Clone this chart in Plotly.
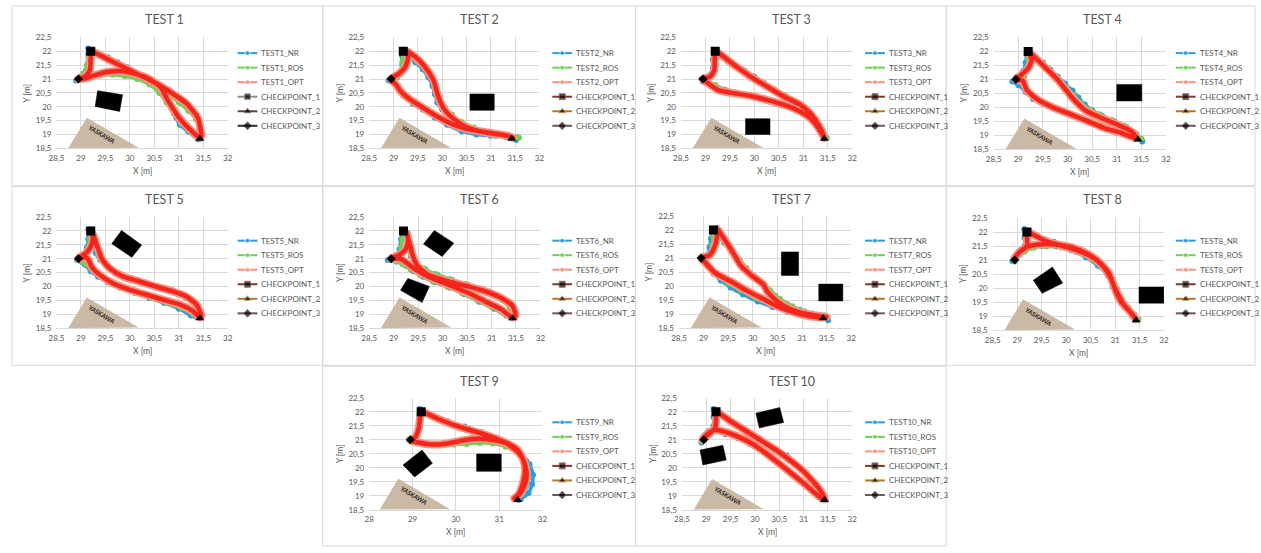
import plotly.graph_objects as go

W, H = 1261, 553

# ---------------- data (metres) ----------------
CP1 = (29.2, 22.0)
CP2 = (31.43, 18.85)
CP3 = (28.95, 21.0)

TITLES = ["TEST 1", "TEST 2", "TEST 3", "TEST 4", "TEST 5",
          "TEST 6", "TEST 7", "TEST 8", "TEST 9", "TEST 10"]

NR_1 = [(29.2,22.0),(29.35,21.88),(29.55,21.78),(29.75,21.6),(29.95,21.42),(30.15,21.2),(30.35,21.0),(30.5,20.82),(30.65,20.55),(30.75,20.25),(30.85,19.95),(30.95,19.6),(31.02,19.35),(31.2,19.1),(31.4,18.82),(31.45,19.2),(31.35,19.6),(31.2,20.05),(31.0,20.35),(30.8,20.6),(30.6,20.8),(30.4,20.95),(30.2,21.05),(30.0,21.13),(29.8,21.18),(29.6,21.2),(29.4,21.15),(29.2,21.05),(29.05,20.98),(28.9,20.95),(29.0,21.1),(29.1,21.3),(29.15,21.6),(29.15,21.9),(29.15,22.1),(29.2,22.0)]
ROS_1 = [(29.2,22.0),(29.4,21.85),(29.6,21.7),(29.8,21.5),(30.0,21.32),(30.2,21.13),(30.4,20.95),(30.6,20.75),(30.8,20.45),(31.0,20.15),(31.2,19.85),(31.35,19.55),(31.42,19.2),(31.43,18.88),(31.25,19.1),(31.05,19.4),(30.9,19.75),(30.75,20.15),(30.6,20.5),(30.4,20.8),(30.15,21.0),(29.9,21.1),(29.65,21.15),(29.4,21.13),(29.2,21.05),(29.0,20.98),(28.95,21.0),(29.05,21.2),(29.12,21.5),(29.15,21.8),(29.2,22.0)]
OPT_1 = [(29.2,22.0),(29.53,21.73),(29.87,21.43),(30.21,21.13),(30.54,20.84),(30.85,20.5),(31.15,20.13),(31.39,19.6),(31.46,18.95),(31.43,18.88),(31.25,19.15),(31.0,19.62),(30.78,20.22),(30.62,20.72),(30.34,21.05),(29.87,21.28),(29.53,21.25),(29.26,21.12),(29.1,21.03),(28.94,21.0),(29.09,21.1),(29.18,21.31),(29.2,21.79),(29.2,22.0)]

NR_2 = [(29.2,22.0),(29.3,21.8),(29.45,21.6),(29.6,21.35),(29.72,21.05),(29.8,20.75),(29.85,20.45),(29.9,20.15),(30.0,19.9),(30.15,19.65),(30.35,19.4),(30.6,19.2),(30.85,19.05),(31.1,18.95),(31.35,18.93),(31.55,18.9),(31.52,18.8),(31.3,18.92),(31.0,18.95),(30.7,19.0),(30.4,19.12),(30.1,19.35),(29.85,19.6),(29.6,19.9),(29.4,20.1),(29.2,20.4),(29.08,20.7),(28.98,20.9),(28.9,20.95),(29.05,21.05),(29.15,21.2),(29.18,21.5),(29.18,21.8),(29.2,22.0)]
ROS_2 = [(29.2,22.0),(29.32,21.82),(29.5,21.6),(29.65,21.35),(29.78,21.05),(29.87,20.7),(29.95,20.35),(30.05,20.0),(30.2,19.72),(30.4,19.45),(30.65,19.25),(30.9,19.1),(31.2,19.0),(31.45,18.92),(31.58,18.88),(31.4,18.95),(31.1,19.0),(30.8,19.07),(30.5,19.2),(30.2,19.4),(29.9,19.65),(29.65,19.95),(29.42,20.2),(29.22,20.45),(29.1,20.75),(29.0,20.92),(29.08,21.05),(29.15,21.3),(29.18,21.6),(29.2,22.0)]
OPT_2 = [(29.25,22.02),(29.45,21.79),(29.65,21.43),(29.82,20.96),(29.92,20.36),(30.05,19.89),(30.26,19.53),(30.53,19.24),(30.93,19.06),(31.34,18.96),(31.46,18.88),(31.3,18.97),(30.9,19.08),(30.5,19.2),(30.2,19.38),(29.9,19.65),(29.6,19.97),(29.35,20.25),(29.15,20.55),(29.05,20.8),(28.94,21.0),(29.11,21.19),(29.24,21.43),(29.3,21.79),(29.25,22.02)]

NR_3 = [(29.2,22.0),(29.3,21.85),(29.45,21.65),(29.6,21.5),(29.8,21.3),(30.0,21.08),(30.2,20.85),(30.4,20.62),(30.6,20.42),(30.8,20.22),(31.0,20.0),(31.15,19.75),(31.3,19.4),(31.4,19.05),(31.43,18.85),(31.3,19.3),(31.1,19.65),(30.9,19.85),(30.6,20.05),(30.3,20.2),(30.0,20.32),(29.7,20.42),(29.45,20.5),(29.25,20.6),(29.1,20.75),(28.95,20.9),(28.92,21.0),(29.1,21.15),(29.15,21.4),(29.15,21.7),(29.18,22.0)]
ROS_3 = [(29.2,22.0),(29.35,21.82),(29.55,21.58),(29.75,21.35),(29.95,21.12),(30.15,20.9),(30.4,20.63),(30.65,20.38),(30.9,20.12),(31.1,19.85),(31.28,19.5),(31.4,19.15),(31.48,18.88),(31.35,19.2),(31.15,19.55),(30.9,19.9),(30.65,20.1),(30.4,20.22),(30.1,20.32),(29.8,20.42),(29.6,20.52),(29.4,20.62),(29.2,20.78),(29.05,20.95),(29.12,21.1),(29.17,21.4),(29.2,21.75),(29.2,22.0)]
OPT_3 = [(29.2,22.0),(29.6,21.49),(29.93,21.08),(30.27,20.72),(30.61,20.36),(30.94,20.07),(31.14,19.77),(31.31,19.35),(31.41,19.0),(31.43,18.88),(31.31,19.24),(31.14,19.59),(30.94,19.83),(30.61,20.07),(30.27,20.24),(29.93,20.39),(29.53,20.5),(29.26,20.6),(29.06,20.84),(28.94,21.0),(29.09,21.08),(29.18,21.31),(29.19,21.75),(29.2,22.0)]

NR_4 = [(29.2,22.0),(29.35,21.8),(29.5,21.6),(29.65,21.35),(29.8,21.1),(29.95,20.85),(30.1,20.6),(30.22,20.35),(30.35,20.1),(30.5,19.9),(30.7,19.7),(30.95,19.5),(31.2,19.3),(31.4,19.05),(31.52,18.78),(31.3,18.95),(31.0,19.1),(30.7,19.3),(30.4,19.48),(30.1,19.68),(29.8,19.9),(29.5,20.12),(29.3,20.3),(29.15,20.55),(29.0,20.8),(28.88,20.92),(29.0,21.1),(29.1,21.3),(29.15,21.6),(29.17,21.9),(29.2,22.0)]
ROS_4 = [(29.2,22.0),(29.35,21.78),(29.5,21.55),(29.65,21.3),(29.82,21.0),(29.98,20.72),(30.12,20.45),(30.28,20.15),(30.45,19.92),(30.65,19.75),(30.9,19.55),(31.15,19.35),(31.35,19.12),(31.5,18.88),(31.3,18.98),(31.0,19.12),(30.7,19.32),(30.4,19.52),(30.1,19.72),(29.8,19.95),(29.5,20.2),(29.3,20.42),(29.15,20.7),(29.05,20.9),(29.12,21.1),(29.17,21.4),(29.2,21.75),(29.2,22.0)]
OPT_4 = [(29.2,22.0),(29.3,21.85),(29.54,21.44),(29.81,20.97),(30.08,20.38),(30.35,19.91),(30.69,19.62),(31.02,19.38),(31.29,19.15),(31.41,18.91),(31.36,18.91),(31.09,19.09),(30.75,19.26),(30.42,19.5),(30.08,19.74),(29.74,19.97),(29.41,20.26),(29.17,20.62),(29.09,20.95),(28.94,21.0),(29.05,21.15),(29.2,21.4),(29.27,21.7),(29.2,22.0)]

NR_5 = [(29.2,22.05),(29.25,21.8),(29.28,21.5),(29.3,21.2),(29.4,20.95),(29.55,20.72),(29.75,20.5),(30.0,20.3),(30.3,20.12),(30.6,19.95),(30.9,19.78),(31.15,19.58),(31.35,19.3),(31.45,18.95),(31.43,18.85),(31.25,18.95),(31.0,19.2),(30.7,19.4),(30.4,19.58),(30.1,19.77),(29.8,19.95),(29.55,20.15),(29.35,20.35),(29.2,20.55),(29.08,20.78),(28.92,20.95),(29.05,21.15),(29.12,21.4),(29.15,21.7),(29.15,22.05)]
ROS_5 = [(29.2,22.0),(29.27,21.75),(29.3,21.45),(29.35,21.15),(29.45,20.9),(29.62,20.65),(29.85,20.42),(30.15,20.22),(30.45,20.05),(30.75,19.88),(31.05,19.7),(31.28,19.45),(31.42,19.1),(31.45,18.88),(31.3,19.0),(31.05,19.22),(30.75,19.4),(30.45,19.57),(30.15,19.75),(29.85,19.95),(29.6,20.15),(29.4,20.35),(29.22,20.6),(29.1,20.8),(28.95,20.95),(29.08,21.1),(29.15,21.4),(29.18,21.7),(29.2,22.0)]
OPT_5 = [(29.2,22.0),(29.26,21.82),(29.33,21.46),(29.43,20.99),(29.6,20.64),(29.87,20.35),(30.21,20.17),(30.54,19.99),(30.88,19.82),(31.15,19.64),(31.36,19.35),(31.46,18.94),(31.43,18.88),(31.29,19.11),(31.02,19.35),(30.68,19.52),(30.34,19.7),(30.0,19.88),(29.66,20.11),(29.39,20.41),(29.22,20.7),(29.16,20.94),(29.09,21.06),(28.94,21.0),(29.12,21.23),(29.22,21.52),(29.24,21.8),(29.2,22.0)]

NR_6 = [(29.2,22.0),(29.25,21.7),(29.3,21.4),(29.35,21.1),(29.45,20.85),(29.65,20.6),(29.9,20.4),(30.2,20.22),(30.5,20.07),(30.8,19.9),(31.05,19.72),(31.25,19.5),(31.4,19.15),(31.43,18.85),(31.3,18.95),(31.05,19.2),(30.75,19.45),(30.45,19.72),(30.15,19.95),(29.85,20.15),(29.6,20.35),(29.4,20.55),(29.25,20.75),(29.05,20.9),(28.88,20.95),(29.05,21.1),(29.12,21.35),(29.15,21.7),(29.18,22.0)]
ROS_6 = [(29.2,22.0),(29.25,21.7),(29.3,21.4),(29.35,21.15),(29.45,20.9),(29.62,20.65),(29.85,20.45),(30.15,20.27),(30.45,20.1),(30.75,19.93),(31.0,19.75),(31.22,19.5),(31.38,19.2),(31.42,18.9),(31.25,19.02),(31.0,19.25),(30.7,19.5),(30.4,19.75),(30.1,19.98),(29.8,20.18),(29.55,20.4),(29.35,20.6),(29.18,20.8),(29.05,20.9),(28.95,20.95),(29.1,21.1),(29.15,21.4),(29.18,21.7),(29.2,22.0)]
OPT_6 = [(29.25,22.0),(29.3,21.7),(29.34,21.47),(29.37,21.23),(29.48,20.76),(29.71,20.41),(30.12,20.18),(30.52,20.0),(30.86,19.83),(31.19,19.59),(31.43,19.3),(31.49,18.94),(31.43,18.88),(31.19,19.18),(30.86,19.47),(30.52,19.77),(30.12,20.06),(29.71,20.35),(29.41,20.65),(29.2,20.94),(29.14,21.0),(28.94,21.0),(29.12,21.15),(29.25,21.35),(29.3,21.7),(29.25,22.0)]

NR_7 = [(29.2,22.0),(29.3,21.8),(29.42,21.55),(29.55,21.28),(29.68,21.0),(29.8,20.72),(29.95,20.45),(30.1,20.2),(30.25,19.95),(30.45,19.65),(30.7,19.35),(30.95,19.15),(31.2,19.02),(31.45,18.95),(31.53,18.78),(31.3,18.9),(31.0,18.95),(30.7,19.08),(30.4,19.25),(30.1,19.45),(29.8,19.7),(29.55,19.95),(29.35,20.2),(29.2,20.45),(29.1,20.7),(28.95,20.95),(29.08,21.1),(29.12,21.4),(29.15,21.7),(29.2,22.05)]
ROS_7 = [(29.2,22.0),(29.32,21.78),(29.46,21.5),(29.6,21.22),(29.73,20.95),(29.87,20.65),(30.02,20.38),(30.18,20.12),(30.35,19.85),(30.55,19.55),(30.8,19.28),(31.05,19.1),(31.3,18.98),(31.45,18.9),(31.25,18.95),(30.95,19.02),(30.65,19.15),(30.35,19.35),(30.05,19.58),(29.75,19.85),(29.5,20.1),(29.3,20.35),(29.15,20.6),(29.05,20.85),(29.12,21.1),(29.17,21.45),(29.2,21.75),(29.2,22.0)]
OPT_7 = [(29.27,22.05),(29.42,21.68),(29.59,21.22),(29.75,20.75),(29.96,20.4),(30.22,20.05),(30.29,19.82),(30.49,19.47),(30.76,19.18),(31.1,19.0),(31.43,18.91),(31.5,18.9),(31.36,18.88),(30.96,19.0),(30.56,19.23),(30.22,19.53),(29.89,19.82),(29.55,20.17),(29.22,20.49),(29.05,20.81),(28.95,21.0),(29.12,21.1),(29.22,21.39),(29.27,21.75),(29.27,22.05)]

NR_8 = [(29.15,22.1),(29.35,21.9),(29.55,21.75),(29.75,21.65),(29.95,21.55),(30.15,21.45),(30.35,21.3),(30.55,21.1),(30.72,20.85),(30.85,20.6),(30.95,20.3),(31.02,20.0),(31.1,19.7),(31.2,19.4),(31.3,19.15),(31.42,18.85),(31.35,19.0),(31.2,19.3),(31.05,19.65),(30.95,20.05),(30.85,20.45),(30.65,20.8),(30.4,21.1),(30.1,21.35),(29.8,21.48),(29.5,21.5),(29.3,21.45),(29.1,21.3),(28.95,21.1),(28.9,20.97),(29.05,21.2),(29.15,21.5),(29.15,21.8),(29.15,22.1)]
ROS_8 = [(29.2,22.0),(29.4,21.85),(29.6,21.72),(29.85,21.58),(30.1,21.45),(30.35,21.28),(30.6,21.02),(30.8,20.7),(30.95,20.3),(31.05,19.95),(31.15,19.6),(31.28,19.3),(31.4,19.05),(31.48,18.88),(31.35,19.1),(31.18,19.45),(31.05,19.85),(30.95,20.25),(30.75,20.7),(30.5,21.05),(30.2,21.3),(29.9,21.45),(29.6,21.48),(29.35,21.45),(29.15,21.3),(29.0,21.1),(28.95,20.95),(29.1,21.3),(29.18,21.6),(29.2,22.0)]
OPT_8 = [(29.2,22.0),(29.58,21.68),(29.91,21.51),(30.25,21.33),(30.59,21.04),(30.86,20.57),(31.0,19.99),(31.16,19.46),(31.36,19.05),(31.43,18.88),(31.33,19.11),(31.12,19.52),(31.02,19.87),(30.92,20.34),(30.72,20.86),(30.45,21.21),(30.12,21.45),(29.78,21.56),(29.44,21.56),(29.21,21.48),(29.04,21.27),(28.92,21.0),(29.04,21.27),(29.2,21.5),(29.2,21.8),(29.2,22.0)]

NR_9 = [(29.2,22.0),(29.45,21.86),(29.8,21.67),(30.2,21.47),(30.6,21.27),(30.95,21.05),(31.25,20.8),(31.5,20.5),(31.7,20.12),(31.78,19.75),(31.76,19.4),(31.68,19.1),(31.5,18.88),(31.45,18.85),(31.55,19.15),(31.65,19.5),(31.7,19.9),(31.62,20.25),(31.45,20.55),(31.2,20.78),(30.9,20.9),(30.6,20.95),(30.3,20.93),(30.0,20.88),(29.7,20.82),(29.45,20.8),(29.2,20.85),(29.0,20.92),(28.92,21.0),(29.1,21.2),(29.15,21.5),(29.15,21.8),(29.17,22.1)]
ROS_9 = [(29.2,22.0),(29.5,21.8),(29.9,21.57),(30.3,21.37),(30.7,21.17),(31.05,20.95),(31.35,20.68),(31.55,20.35),(31.65,20.0),(31.68,19.65),(31.62,19.3),(31.52,19.05),(31.43,18.88),(31.5,19.1),(31.6,19.5),(31.65,19.9),(31.57,20.25),(31.4,20.55),(31.15,20.75),(30.85,20.87),(30.55,20.88),(30.25,20.85),(29.95,20.83),(29.65,20.8),(29.4,20.83),(29.15,20.9),(28.95,20.97),(29.1,21.15),(29.17,21.45),(29.2,21.75),(29.2,22.0)]
OPT_9 = [(29.2,22.0),(29.6,21.74),(29.98,21.51),(30.36,21.33),(30.74,21.15),(31.12,20.92),(31.43,20.57),(31.58,20.22),(31.64,19.75),(31.58,19.34),(31.47,19.05),(31.35,18.9),(31.45,19.05),(31.54,19.4),(31.6,19.87),(31.56,20.28),(31.43,20.63),(31.2,20.86),(30.9,20.98),(30.59,21.04),(30.29,21.01),(29.98,20.92),(29.68,20.84),(29.37,20.84),(29.14,20.9),(28.95,20.98),(29.07,21.1),(29.14,21.39),(29.18,21.86),(29.2,22.0)]

NR_10 = [(29.2,22.05),(29.45,21.75),(29.7,21.45),(29.95,21.15),(30.2,20.9),(30.45,20.65),(30.65,20.45),(30.8,20.2),(30.95,19.9),(31.15,19.55),(31.3,19.25),(31.42,18.9),(31.35,18.95),(31.15,19.2),(30.9,19.55),(30.65,19.9),(30.4,20.25),(30.15,20.6),(29.9,20.85),(29.65,21.05),(29.4,21.2),(29.2,21.3),(29.05,21.3),(28.95,21.1),(28.9,20.9),(29.05,21.2),(29.15,21.5),(29.15,21.8),(29.15,22.1)]
ROS_10 = [(29.2,22.0),(29.5,21.68),(29.8,21.35),(30.1,21.02),(30.4,20.7),(30.7,20.33),(30.95,19.98),(31.15,19.62),(31.32,19.28),(31.45,18.88),(31.3,19.05),(31.05,19.4),(30.8,19.75),(30.55,20.1),(30.25,20.5),(29.95,20.88),(29.65,21.15),(29.4,21.3),(29.2,21.35),(29.05,21.22),(28.9,20.95),(29.05,21.15),(29.15,21.4),(29.2,21.7),(29.2,22.0)]
OPT_10 = [(29.2,22.0),(29.5,21.66),(29.8,21.33),(30.1,21.0),(30.4,20.67),(30.7,20.3),(30.95,19.95),(31.15,19.6),(31.32,19.25),(31.44,18.88),(31.38,18.9),(31.2,19.15),(31.0,19.45),(30.75,19.8),(30.5,20.15),(30.2,20.55),(29.9,20.9),(29.6,21.15),(29.35,21.3),(29.18,21.35),(29.05,21.25),(28.95,21.08),(28.92,21.0),(29.05,21.2),(29.18,21.42),(29.2,21.7),(29.2,22.0)]

# obstacles (polygons, metres)
OBST_1 = [[(29.34,20.58),(29.85,20.43),(29.79,19.83),(29.29,20.01)]]
OBST_2 = [[(30.57,19.87),(31.07,19.87),(31.07,20.46),(30.57,20.46)]]
OBST_3 = [[(29.82,19.0),(30.32,19.0),(30.32,19.57),(29.82,19.57)]]
OBST_4 = [[(31.0,20.23),(31.51,20.23),(31.51,20.82),(31.0,20.82)]]
OBST_5 = [[(29.83,22.02),(30.24,21.49),(30.04,21.05),(29.63,21.54)]]
OBST_6 = [[(29.83,22.02),(30.23,21.56),(29.99,21.08),(29.61,21.53)],
          [(29.29,20.29),(29.73,20.0),(29.58,19.42),(29.14,19.86)]]
OBST_7 = [[(30.58,20.38),(30.93,20.38),(30.93,21.22),(30.58,21.22)],
          [(31.34,19.47),(31.83,19.47),(31.83,20.07),(31.34,20.07)]]
OBST_8 = [[(29.72,20.75),(29.93,20.18),(29.51,19.81),(29.33,20.28)],
          [(31.49,19.46),(32.0,19.46),(32.0,20.04),(31.49,20.04)]]
OBST_9 = [[(29.22,20.63),(29.46,20.16),(29.05,19.67),(28.78,20.1)],
          [(30.48,19.87),(31.05,19.87),(31.05,20.49),(30.48,20.49)]]
OBST_10 = [[(30.02,21.95),(30.51,22.15),(30.59,21.62),(30.09,21.42)],
           [(28.87,20.63),(29.34,20.8),(29.41,20.28),(28.93,20.1)]]

YASKAWA_TRI = [(28.74,18.5),(29.12,19.6),(30.18,18.52)]
YASKAWA_TRI_9 = [(28.24,18.5),(28.67,19.61),(29.87,18.52)]
YASKAWA_LBL = (29.43, 19.0)
YASKAWA_LBL_9 = (29.03, 19.0)

X_RANGE = [28.5, 32]
X_RANGE_9 = [28, 32]
Y_RANGE = [18.5, 22.5]

NR = [NR_1, NR_2, NR_3, NR_4, NR_5, NR_6, NR_7, NR_8, NR_9, NR_10]
ROS = [ROS_1, ROS_2, ROS_3, ROS_4, ROS_5, ROS_6, ROS_7, ROS_8, ROS_9, ROS_10]
OPT = [OPT_1, OPT_2, OPT_3, OPT_4, OPT_5, OPT_6, OPT_7, OPT_8, OPT_9, OPT_10]
OBST = [OBST_1, OBST_2, OBST_3, OBST_4, OBST_5, OBST_6, OBST_7, OBST_8, OBST_9, OBST_10]

# ---------------- layout geometry (pixels) ----------------
FRAMES = [(4,1,318,184),(318,1,634,184),(634,1,948,184),(948,1,1260,184),
          (4,185,318,367),(318,185,634,367),(634,185,948,367),(948,185,1260,367),
          (318,368,634,551),(634,368,948,551)]
ORIGINS = [(0,0),(318,0),(634,0),(948,0),(0,185),(318,185),(634,185),(948,185),(318,368),(634,368)]
PLOTS = [(49,33,222,146),(365,33,537,146),(680,33,853,146),(996,33,1170,147),
         (49,216,222,329),(365,216,538,329),(678,215,852,329),(995,217,1168,331),
         (365,400,540,514),(681,400,853,514)]
TITLE_Y = [15,15,15,15,198,198,198,198,383,383]
LEG_Y0 = [49,49,49,49,240,240,240,240,425,425]
LEG_DY = 14.8

FONT = "Lato, 'Open Sans', sans-serif"
GREY = "#595959"
NR_COL = "#2b9be0"
ROS_COL = "#6fcf56"
OPT_COL = "#f3251c"
OPT_EDGE = "#f6937f"


def xs(pts):
    return [p[0] for p in pts]


def ys(pts):
    return [p[1] for p in pts]


def px(x):
    return x / W


def py(y):
    return 1 - y / H


fig = go.Figure()
layout = dict(width=W, height=H, autosize=False, margin=dict(l=0, r=0, t=0, b=0),
              paper_bgcolor="white", plot_bgcolor="rgba(0,0,0,0)",
              showlegend=False, separators=", ", font=dict(family=FONT, color=GREY))
annotations = []
shapes = []

for i in range(10):
    n = i + 1
    xa = "x" if n == 1 else f"x{n}"
    ya = "y" if n == 1 else f"y{n}"
    l, t, r, b = PLOTS[i]
    common = dict(xaxis=xa, yaxis=ya, showlegend=False, hoverinfo="skip")

    # frame
    fl, ft, fr, fb = FRAMES[i]
    shapes.append(dict(type="rect", xref="paper", yref="paper", x0=px(fl), x1=px(fr),
                       y0=py(fb), y1=py(ft), line=dict(color="#d9d9d9", width=1),
                       fillcolor="rgba(0,0,0,0)", layer="below"))

    # YASKAWA robot base
    tri = YASKAWA_TRI_9 if n == 9 else YASKAWA_TRI
    lbl = YASKAWA_LBL_9 if n == 9 else YASKAWA_LBL
    fig.add_trace(go.Scatter(x=xs(tri) + [tri[0][0]], y=ys(tri) + [tri[0][1]], mode="lines",
                             fill="toself", fillcolor="#c9b9a5", line=dict(width=0, color="#c9b9a5"),
                             **common))
    annotations.append(dict(x=lbl[0], y=lbl[1], xref=xa, yref=ya, text="<b><i>YASKAWA</i></b>",
                            showarrow=False, textangle=31, font=dict(size=6.5, color="#2e2620", family=FONT)))

    # obstacles
    for poly in OBST[i]:
        fig.add_trace(go.Scatter(x=xs(poly) + [poly[0][0]], y=ys(poly) + [poly[0][1]], mode="lines",
                                 fill="toself", fillcolor="black", line=dict(width=0.5, color="black"),
                                 **common))

    # trajectories
    fig.add_trace(go.Scatter(x=xs(NR[i]), y=ys(NR[i]), mode="lines+markers",
                             line=dict(color=NR_COL, width=3.5, shape="spline", smoothing=0.6),
                             marker=dict(color=NR_COL, size=6), **common))
    fig.add_trace(go.Scatter(x=xs(ROS[i]), y=ys(ROS[i]), mode="lines+markers",
                             line=dict(color=ROS_COL, width=3.5, shape="spline", smoothing=0.6),
                             marker=dict(color=ROS_COL, size=6), **common))
    fig.add_trace(go.Scatter(x=xs(OPT[i]), y=ys(OPT[i]), mode="lines",
                             line=dict(color=OPT_EDGE, width=8, shape="spline", smoothing=0.6),
                             **common))
    fig.add_trace(go.Scatter(x=xs(OPT[i]), y=ys(OPT[i]), mode="lines",
                             line=dict(color=OPT_COL, width=4.5, shape="spline", smoothing=0.6),
                             **common))

    # checkpoints
    fig.add_trace(go.Scatter(x=[CP1[0]], y=[CP1[1]], mode="markers",
                             marker=dict(symbol="square", color="black", size=9), **common))
    fig.add_trace(go.Scatter(x=[CP2[0]], y=[CP2[1]], mode="markers",
                             marker=dict(symbol="triangle-up", color="black", size=8), **common))
    fig.add_trace(go.Scatter(x=[CP3[0]], y=[CP3[1]], mode="markers",
                             marker=dict(symbol="diamond", color="black", size=7), **common))

    xr = X_RANGE_9 if n == 9 else X_RANGE
    axis_common = dict(showgrid=True, gridcolor="#d9d9d9", gridwidth=1, zeroline=False,
                       ticks="", tickfont=dict(size=8, color=GREY, family=FONT), fixedrange=True)
    layout["xaxis" if n == 1 else f"xaxis{n}"] = dict(
        domain=[px(l), px(r)], range=xr, tick0=xr[0], dtick=1 if n == 9 else 0.5,
        anchor=ya, showline=True, linecolor="#d9d9d9", linewidth=1, ticklabelstandoff=2, **axis_common)
    layout["yaxis" if n == 1 else f"yaxis{n}"] = dict(
        domain=[py(b), py(t)], range=Y_RANGE, tick0=18.5, dtick=0.5, anchor=xa,
        showline=False, ticklabelstandoff=4, **axis_common)

    # texts
    ox, oy = ORIGINS[i]
    annotations.append(dict(x=px(ox + 158), y=py(TITLE_Y[i]), xref="paper", yref="paper",
                            text=TITLES[i], showarrow=False, xanchor="center", yanchor="middle",
                            font=dict(size=12.5, color=GREY, family=FONT)))
    annotations.append(dict(x=px((l + r) / 2), y=py(b + 23), xref="paper", yref="paper",
                            text="X [m]", showarrow=False, xanchor="center", yanchor="middle",
                            font=dict(size=8.5, color=GREY, family=FONT)))
    annotations.append(dict(x=px(l - 30), y=py((t + b) / 2), xref="paper", yref="paper",
                            text="Y [m]", showarrow=False, textangle=-90, xanchor="center", yanchor="middle",
                            font=dict(size=8.5, color=GREY, family=FONT)))

    # legend
    tnum = TITLES[i].split()[1]
    if n == 1:
        cp_cols = ["#8c8c8c", "#5a4a45", "#2b2b2b"]
    else:
        cp_cols = ["#7a3b2c", "#b07a2c", "#6d5656"]
    entries = [
        (f"TEST{tnum}_NR", NR_COL, NR_COL, "circle", 5),
        (f"TEST{tnum}_ROS", ROS_COL, ROS_COL, "circle", 5),
        (f"TEST{tnum}_OPT", OPT_EDGE, OPT_EDGE, "circle", 5),
        ("CHECKPOINT_1", cp_cols[0], "black", "square", 6),
        ("CHECKPOINT_2", cp_cols[1], "black", "triangle-up", 6),
        ("CHECKPOINT_3", cp_cols[2], "black", "diamond", 6),
    ]
    for k, (name, lc, mc, sym, ms) in enumerate(entries):
        yy = LEG_Y0[i] + k * LEG_DY
        x0, x1 = ox + 232, ox + 252
        fig.add_trace(go.Scatter(x=[x0, (x0 + x1) / 2, x1], y=[yy, yy, yy], mode="lines+markers",
                                 line=dict(color=lc, width=2),
                                 marker=dict(color=mc, symbol=sym, size=[0, ms, 0]),
                                 xaxis="x11", yaxis="y11", showlegend=False, hoverinfo="skip"))
        annotations.append(dict(x=px(ox + 254), y=py(yy), xref="paper", yref="paper", text=name,
                                showarrow=False, xanchor="left", yanchor="middle",
                                font=dict(size=8, color=GREY, family=FONT)))

layout["xaxis11"] = dict(domain=[0, 1], range=[0, W], visible=False, fixedrange=True, anchor="y11")
layout["yaxis11"] = dict(domain=[0, 1], range=[H, 0], visible=False, fixedrange=True, anchor="x11")
layout["annotations"] = annotations
layout["shapes"] = shapes
fig.update_layout(**layout)
fig.write_html("out.html", config={"displayModeBar": False},
               post_script="document.body.style.margin='0';document.body.style.overflow='hidden';")
